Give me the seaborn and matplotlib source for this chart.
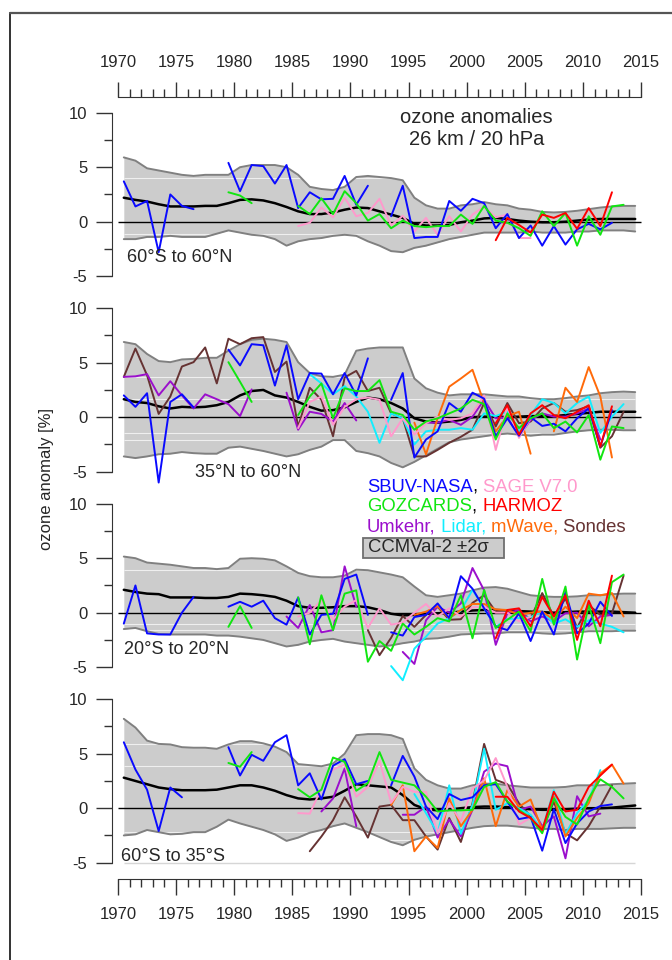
import numpy as np
import matplotlib
matplotlib.use("Agg")
import matplotlib.pyplot as plt
import seaborn as sns
from matplotlib.patches import Rectangle
from matplotlib.lines import Line2D

sns.set_style("ticks")
plt.rcParams["font.family"] = ["Liberation Sans", "DejaVu Sans"]
plt.rcParams["axes.unicode_minus"] = False

nan = np.nan
YEAR0 = 1970  # band / mean series start (one value per year)

# ---------------- CCMVal-2 band (upper, lower) and mean, 1970..2014 ----------------
band_hi = [
    [5.9, 5.6, 4.9, 4.7, 4.5, 4.3, 4.2, 4.3, 4.3, 4.3, 5.0, 5.2, 5.2, 5.2, 5.0, 4.3, 3.2, 3.0, 2.9, 3.2, 4.1, 4.2, 4.1,
     4.0, 3.8, 2.2, 1.5, 1.2, 1.2, 1.5, 1.6, 1.8, 1.6, 1.5, 1.2, 1.1, 0.9, 0.85, 0.9, 1.0, 1.15, 1.3, 1.4, 1.45, 1.45],
    [6.9, 6.7, 5.8, 5.15, 5.05, 5.3, 5.35, 5.45, 5.45, 6.1, 6.7, 7.1, 7.2, 7.1, 6.9, 5.05, 4.05, 3.75, 3.7, 3.9, 6.1,
     6.3, 6.4, 6.4, 6.4, 3.55, 2.65, 2.25, 2.0, 2.1, 2.1, 2.1, 2.0, 1.9, 1.9, 1.75, 1.65, 1.65, 1.75, 1.9, 2.0, 2.2,
     2.3, 2.35, 2.3],
    [5.15, 5.0, 4.6, 4.5, 4.4, 4.25, 4.1, 4.1, 4.0, 4.1, 4.95, 5.0, 4.95, 4.8, 4.25, 3.65, 3.35, 3.25, 3.25, 3.4, 3.95,
     3.9, 3.7, 3.5, 3.25, 2.4, 1.6, 1.45, 1.6, 1.75, 2.05, 2.3, 2.35, 2.2, 1.9, 1.6, 1.5, 1.45, 1.45, 1.5, 1.6, 1.6,
     1.7, 1.75, 1.75],
    [8.2, 7.4, 6.2, 5.9, 5.85, 5.6, 5.55, 5.55, 5.45, 5.85, 6.15, 6.15, 5.95, 5.65, 5.15, 4.05, 3.95, 3.85, 4.1, 5.0,
     6.7, 6.8, 6.8, 6.7, 6.35, 3.65, 2.6, 2.1, 1.8, 1.8, 2.1, 2.25, 2.25, 2.1, 2.0, 1.9, 1.9, 1.9, 1.95, 2.1, 2.1, 2.1,
     2.2, 2.25, 2.3],
]
band_lo = [
    [-1.6, -1.6, -1.4, -1.4, -1.3, -1.4, -1.4, -1.4, -1.1, -0.8, -1.0, -1.2, -1.3, -1.6, -2.2, -1.8, -1.6, -1.5, -1.3,
     -1.2, -1.3, -1.8, -2.2, -2.7, -2.8, -2.4, -2.2, -1.9, -1.6, -1.4, -1.2, -1.0, -1.0, -1.0, -1.0, -0.9, -1.0, -1.0,
     -1.0, -0.9, -0.9, -0.8, -0.8, -0.8, -0.9],
    [-3.6, -3.75, -3.6, -3.4, -3.35, -3.2, -3.3, -3.35, -3.35, -2.8, -2.7, -2.9, -3.1, -3.35, -3.6, -3.4, -3.0, -2.7,
     -2.1, -2.1, -3.1, -3.3, -3.6, -4.2, -4.6, -4.1, -3.5, -2.9, -2.3, -2.05, -1.9, -1.75, -1.6, -1.5, -1.6, -1.7,
     -1.6, -1.6, -1.45, -1.3, -1.2, -1.15, -1.15, -1.2, -1.2],
    [-1.5, -1.4, -1.7, -1.95, -2.0, -2.0, -2.0, -2.0, -2.1, -2.1, -2.2, -2.35, -2.5, -2.8, -3.1, -2.95, -2.65, -2.5,
     -2.4, -2.65, -2.8, -2.95, -3.1, -3.0, -2.8, -2.65, -2.4, -2.35, -2.2, -2.0, -1.95, -1.9, -1.9, -1.8, -1.8, -1.8,
     -1.9, -1.95, -1.9, -1.8, -1.7, -1.7, -1.7, -1.65, -1.65],
    [-2.5, -2.4, -2.0, -2.2, -2.4, -2.35, -2.2, -2.2, -1.7, -1.05, -1.4, -1.7, -2.0, -2.4, -3.0, -2.7, -2.25, -2.0,
     -1.65, -1.4, -1.8, -2.2, -2.65, -3.1, -3.4, -2.9, -2.6, -2.4, -2.2, -2.0, -1.8, -1.65, -1.6, -1.6, -1.7, -1.8,
     -1.9, -1.9, -2.0, -1.9, -1.9, -1.9, -1.85, -1.8, -1.8],
]
ccm_mean = [
    [2.2, 2.0, 1.85, 1.6, 1.4, 1.4, 1.4, 1.45, 1.45, 1.7, 2.0, 2.05, 1.95, 1.7, 1.35, 0.95, 0.7, 0.7, 0.85, 1.1, 1.3,
     1.25, 0.95, 0.65, 0.35, -0.2, -0.35, -0.35, -0.3, -0.05, 0.1, 0.3, 0.35, 0.25, 0.1, 0.0, -0.05, -0.05, 0.0, 0.1,
     0.2, 0.25, 0.25, 0.25, 0.25],
    [1.65, 1.4, 1.3, 1.0, 0.8, 0.95, 0.9, 0.95, 1.1, 1.4, 2.0, 2.4, 2.5, 2.0, 1.8, 1.4, 0.95, 0.6, 0.65, 0.9, 1.4, 1.8,
     1.65, 1.3, 0.8, -0.1, -0.4, -0.5, -0.4, -0.25, 0.0, 0.05, 0.05, 0.0, 0.05, 0.1, 0.1, 0.1, 0.2, 0.3, 0.4, 0.5, 0.5,
     0.5, 0.5],
    [2.1, 1.9, 1.75, 1.7, 1.4, 1.4, 1.4, 1.35, 1.35, 1.45, 1.75, 1.7, 1.6, 1.45, 1.1, 0.6, 0.45, 0.45, 0.5, 0.6, 0.6,
     0.5, 0.25, -0.1, -0.25, -0.2, -0.1, -0.05, 0.0, 0.1, 0.2, 0.25, 0.25, 0.2, 0.15, 0.1, 0.05, 0.0, 0.05, 0.1, 0.1,
     0.1, 0.1, 0.05, 0.0],
    [2.8, 2.5, 2.2, 1.9, 1.75, 1.65, 1.65, 1.65, 1.7, 1.9, 2.1, 2.1, 1.9, 1.6, 1.2, 0.9, 0.8, 0.9, 1.05, 1.6, 2.2, 2.1,
     2.0, 1.9, 1.2, 0.3, -0.1, -0.2, -0.15, 0.0, 0.1, 0.15, 0.15, 0.1, 0.0, -0.1, -0.15, -0.15, -0.1, -0.05, 0.0, 0.0,
     0.05, 0.15, 0.25],
]

# ---------------- observations: (first year, annual values) ----------------
# panel 1: 60S-60N
sbuv1 = (1970, [3.7, 1.4, 1.9, -2.8, 2.5, 1.45, 1.15, nan, nan, 5.4, 2.8, 5.2, 5.1, 3.5, 5.2, 1.25, 2.7, 2.05, 2.1,
                4.2, 1.55, 3.3, nan, 0.5, 3.3, -1.5, -1.4, -1.4, 1.9, 1.0, 2.1, 1.7, -0.6, 0.7, -1.5, -0.35, -2.2,
                -0.4, -2.1, -0.7, -0.2, -0.7, -0.1])
sage1 = (1985, [-0.4, -0.1, 1.3, 0.4, 2.2, 0.5, 0.8, 2.1, -0.35, 0.55, -0.9, 0.35, -1.2, 0.5, -0.9, 0.65, 1.4, 0.4,
                0.65, -1.5, -1.5])
goz1 = (1979, [2.7, 2.4, 1.7, nan, nan, nan, 1.45, 0.7, 2.15, 0.7, 2.8, 1.7, 0.1, 0.7, -0.6, 0.1, -0.4, -0.5, -0.4,
               -0.4, 0.65, -0.2, 1.45, 0.1, -0.1, -0.6, -1.3, 0.95, -0.4, 0.8, -2.2, 0.5, -1.2, 1.4, 1.55])
harm1 = (2002, [-1.7, 0.35, -0.3, -1.0, 0.65, 0.35, 0.8, -0.65, 1.25, -0.4, 2.7])

# panel 2: 35N-60N
sbuv2 = (1970, [2.0, 0.95, 2.2, -6.0, 1.4, 2.1, 0.9, nan, nan, 6.2, 4.75, 6.7, 6.6, 2.9, 6.6, 1.65, 4.05, 4.0, 2.1,
                4.05, 2.0, 5.4, nan, 1.6, 4.05, -3.7, -2.05, -1.3, 1.3, 0.5, 2.25, 1.7, -1.75, -0.1, -1.7, 0.0, -0.8,
                -0.6, -1.3, -0.1, 0.8, -2.7, 0.65])
sage2 = (1985, [-1.0, 1.4, 1.9, -0.7, 0.95, 1.65, 1.8, 1.6, -1.75, -0.1, -1.6, -0.55, 0.05, -0.25, -0.1, 0.35, 2.0,
                -3.0, 0.95, -1.9, -0.1])
goz2 = (1979, [5.05, 3.25, 1.4, nan, nan, nan, 0.2, 1.9, 3.1, -0.1, 2.65, 2.4, 2.4, 3.4, 0.5, 0.2, -1.15, -0.4,
               -0.1, 0.35, 0.8, 1.6, 1.2, -2.05, 0.35, -1.0, -0.1, 0.35, -1.0, -0.4, -1.4, 0.2, -3.9, -0.85, -1.0])
harm2 = (2002, [-0.55, 1.1, -1.6, 0.35, 1.1, 0.2, -0.1, 0.5, 1.1, -2.7, 1.0])
umk2 = (1970, [3.7, 3.75, 3.95, 2.0, 3.3, 2.0, 0.8, 2.1, 1.65, 1.2, 0.1, 2.55, nan, nan, 2.25, -1.15, 0.5, 0.3,
               -0.4, 1.3, -0.3, nan, nan, nan, nan, nan, -0.5, -0.5, -0.25, -0.7, 0.05, 1.6, -0.1, 0.0, -1.75,
               -0.25, 0.35, 0.05, 0.05, 0.35, 0.8, -2.05])
lidar2 = (1986, [3.95, 3.1, 2.1, 2.85, 1.9, 0.5, -2.35, 0.35, -0.1, -2.5, -1.3, -1.15, -1.15, -1.0, -1.15, 0.35, 0.1,
                 0.5, -1.3, 0.2, 1.65, 1.3, 0.35, 1.3, 1.9, -1.45, 0.05, 1.2])
mw2 = (1995, [-0.5, -3.4, -0.1, 2.8, 3.55, 4.35, 1.3, -1.3, 0.1, 0.5, -3.35, nan, -1.3, 2.7, 1.4, 4.6, 1.9, -3.7])
sonde2 = (1970, [3.7, 6.3, 3.85, 0.3, 1.9, 4.65, 5.05, 6.4, 3.1, 7.2, 6.7, 7.25, 7.35, 4.15, 5.1, -0.9, 2.7, 1.6,
                 -1.75, 3.65, 4.25, 2.4, 2.7, 0.35, -0.1, -3.6, -3.6, -3.0, -2.35, -1.8, -1.15, 1.3, -0.85, 1.3,
                 -0.55, -0.4, 0.8, 1.3, 0.5, 0.65, 1.0, -2.8, -1.75, 0.5])

# panel 3: 20S-20N
sbuv3 = (1970, [-1.0, 2.5, -1.9, -2.0, -2.0, 0.0, 1.45, nan, nan, 0.55, 1.0, 0.55, 1.1, -0.5, -1.1, 1.4, -2.0, -0.2,
                -0.1, 3.1, 3.5, -0.2, nan, -1.8, -2.1, -0.4, -0.2, 0.85, -0.5, 3.35, 2.2, 0.4, -1.25, -1.6, -0.05,
                -2.6, 0.1, -2.0, 1.9, -1.9, -1.0, 1.0, -0.3])
sage3 = (1985, [-0.35, 0.0, 1.15, -0.65, 0.55, 1.15, -1.4, 0.4, -1.1, -0.9, 0.0, 0.8, -0.35, 0.4, -0.35, 0.5, 0.55,
                0.0, 0.0, -0.8, -0.35])
goz3 = (1979, [-1.3, 0.6, -1.4, nan, nan, nan, 1.4, -2.9, 1.6, -1.6, 1.75, 2.05, -4.5, -2.6, -3.5, -1.0, -2.0, -1.3,
               -0.5, -0.8, 1.6, -2.35, 2.1, -1.4, -0.65, 0.1, -1.7, 3.1, -1.1, 2.4, -4.3, 0.7, -2.8, 2.8, 3.5])
harm3 = (2002, [-2.35, 0.25, 0.4, -1.25, 1.45, -0.35, 1.6, -2.5, 1.1, -1.25, 3.4])
umk3 = (1984, [-0.35, -1.4, 0.7, -1.8, -1.6, 4.25, 0.55, nan, nan, nan, -3.6, -4.7, -0.7, 0.55, 0.0, 0.85, 4.1, 2.05,
               -2.95, -0.05, 0.25, -0.8, -0.35, -0.8, -0.05, 0.0, -1.25, -0.35, -0.2])
lidar3 = (1993, [-4.9, -6.2, -3.3, -2.2, -1.0, -0.5, 0.2, 2.1, 0.4, -1.3, -0.6, -0.5, -0.4, 0.1, -1.0, -0.6, -1.3,
                 -0.7, -1.0, -1.3, -1.8])
mw3 = (1995, [-0.2, 0.1, 0.6, -0.5, 0.25, 0.8, 0.8, 0.3, 0.25, -0.2, 0.0, 0.1, -0.65, 0.55, -0.5, 1.75, 1.6, 1.8,
              -0.35])
sonde3 = (1991, [-1.6, -3.9, -2.3, -0.3, -1.3, -0.2, 0.55, -0.65, -0.6, 0.9, 1.6, 0.1, 0.25, -0.05, -0.5, 1.8, -0.35,
                 1.3, -1.4, 0.7, -0.2, -0.05, 3.4])

# panel 4: 60S-35S
sbuv4 = (1970, [6.05, 3.55, 1.7, -2.1, 1.9, 1.0, nan, nan, nan, 5.6, 3.0, 4.9, 4.35, 6.05, 6.7, 2.1, 3.2, 0.8, 3.9,
                4.5, 2.2, 2.5, nan, 2.1, 4.8, 2.9, 0.15, -1.0, 1.3, 0.75, 1.0, 2.1, 2.2, 0.6, -1.0, -0.8, -3.9, -0.1,
                -3.2, -1.4, -0.3, 0.2, 0.35])
sage4 = (1985, [-0.45, -0.5, 1.8, 3.55, 4.0, 1.05, 1.95, 4.35, 0.5, 1.95, 1.5, 1.5, -2.3, 0.45, -1.2, 1.8, 2.55, 4.6,
                1.95, -1.5, -0.9])
goz4 = (1979, [4.15, 3.8, 5.15, nan, nan, nan, 1.75, 1.0, 1.7, 4.65, 4.25, 1.6, 2.3, 5.15, 2.6, 2.35, 2.1, 1.05,
               -0.3, -0.2, -0.2, -0.15, 1.95, 2.4, 0.6, -0.15, -0.9, -2.3, 0.9, -0.8, -1.5, 0.9, 2.65, 1.95, 0.9])
harm4 = (2002, [1.05, 1.05, -0.3, -0.9, -2.0, 1.5, -0.3, -0.15, 1.95, 3.0, 4.0])
umk4 = (1987, [-0.3, 0.9, 3.65, -1.65, nan, nan, nan, -0.6, -0.6, 0.15, -2.7, -1.05, -2.6, -0.15, 3.35, 4.1, 3.85,
               -0.15, 0.15, -1.65, -0.75, -4.6, 1.1, -0.75, -0.5])
lidar4 = (1995, [1.3, -0.45, -2.3, 2.1, -2.35, 0.3, 5.45, -0.15, 0.45, 0.0, -0.6, -2.0, 1.65, -2.4, -0.45, 0.75, 3.5])
mw4 = (1993, [0.3, 2.1, -3.95, -2.6, -3.65, 0.9, -1.65, -0.15, 2.75, -1.65, 1.65, 0.15, 0.8, -2.0, 1.05, -2.6, -0.9,
              0.45, 3.2, 4.0, 2.25])
sonde4 = (1986, [-3.95, -2.6, -1.1, 1.0, -0.75, -2.7, 0.15, 0.3, -1.1, -1.1, -2.6, -3.8, -0.9, -3.1, 0.45, 5.9, 2.6,
                 2.2, 0.45, -0.75, -2.0, 0.6, -2.3, -2.95, -1.65, 0.15, 2.1])

COLORS = {"sbuv": "#0a0aff", "sage": "#ff99cc", "goz": "#11e611", "harm": "#ff0000",
          "umk": "#9b0fcc", "lidar": "#11eeff", "mw": "#ff6a0a", "sonde": "#663333"}

panels = [
    {"label": "60°S to 60°N", "lab_xy": (1970.8, -3.3),
     "obs": [("sage", sage1), ("sbuv", sbuv1), ("goz", goz1), ("harm", harm1)],
     "white": [4.0, -1.15]},
    {"label": "35°N to 60°N", "lab_xy": (1976.6, -5.1),
     "obs": [("sonde", sonde2), ("umk", umk2), ("lidar", lidar2), ("mw", mw2), ("sage", sage2), ("sbuv", sbuv2),
             ("goz", goz2), ("harm", harm2)],
     "white": [3.7, 1.7, -1.45, -2.05]},
    {"label": "20°S to 20°N", "lab_xy": (1970.5, -3.4),
     "obs": [("sonde", sonde3), ("umk", umk3), ("lidar", lidar3), ("mw", mw3), ("sage", sage3), ("sbuv", sbuv3),
             ("goz", goz3), ("harm", harm3)],
     "white": [3.95, -1.0, -1.6]},
    {"label": "60°S to 35°S", "lab_xy": (1970.3, -4.45),
     "obs": [("sonde", sonde4), ("umk", umk4), ("lidar", lidar4), ("mw", mw4), ("sage", sage4), ("sbuv", sbuv4),
             ("goz", goz4), ("harm", harm4)],
     "white": [5.85, 3.9, -2.2, -2.9]},
]

legend_lines = [
    [("SBUV-NASA", COLORS["sbuv"]), (", ", "black"), ("SAGE V7.0", COLORS["sage"])],
    [("GOZCARDS", COLORS["goz"]), (", ", "black"), ("HARMOZ", COLORS["harm"])],
    [("Umkehr,", COLORS["umk"]), (" Lidar,", COLORS["lidar"]), (" mWave,", COLORS["mw"]),
     (" Sondes", COLORS["sonde"])],
]


def draw(ax, start, vals, color, lw=1.4):
    y = np.array(vals, dtype=float)
    x = np.arange(start, start + len(y)) + 0.5
    idx = np.flatnonzero(~np.isnan(y))
    for run in np.split(idx, np.where(np.diff(idx) != 1)[0] + 1):
        if len(run) > 1:
            sns.lineplot(x=x[run], y=y[run], ax=ax, color=color, lw=lw, estimator=None, sort=False)


fig = plt.figure(figsize=(6.72, 9.6), dpi=100)
W, H = 672.0, 960.0
ax_left, ax_w = 112.5 / W, (644.5 - 112.5) / W
ax_h = 195.5 / H
XLIM = (1969.527, 2015.3)
YLIM = (-6.47, 11.47)
TICK_C = "#333333"

axes = []
for k, p in enumerate(panels):
    bottom = 1 - (292.2 + 195.5 * k) / H
    ax = fig.add_axes([ax_left, bottom, ax_w, ax_h])
    ax.patch.set_alpha(0)
    axes.append(ax)

    yrs = np.arange(YEAR0, YEAR0 + len(ccm_mean[k])) + 0.5
    ax.fill_between(yrs, band_lo[k], band_hi[k], color="#cccccc", lw=0, zorder=1)
    for v in p["white"]:
        ax.hlines(v, yrs[0], yrs[-1], color="white", lw=0.8, alpha=0.7, zorder=1.2)
    if k == 3:
        ax.hlines(-5, yrs[0], yrs[-1], color="#d6d6d6", lw=1.0, zorder=1.2)
    draw(ax, YEAR0, band_hi[k], "#808080", lw=1.4)
    draw(ax, YEAR0, band_lo[k], "#808080", lw=1.4)
    ax.hlines(0, 1970, 2015, color="black", lw=1.0, zorder=2)
    draw(ax, YEAR0, ccm_mean[k], "black", lw=1.8)
    for key, (start, vals) in p["obs"]:
        draw(ax, start, vals, COLORS[key], lw=1.4)

    ax.text(p["lab_xy"][0], p["lab_xy"][1], p["label"], fontsize=13, ha="left", va="center")

    ax.set_xlim(*XLIM)
    ax.set_ylim(*YLIM)
    ax.set_xlabel("")
    ax.set_ylabel("")
    ax.set_yticks([-5, 0, 5, 10])
    ax.set_yticklabels(["-5", "0", "5", "10"])
    ax.set_yticks([-2.5, 2.5, 7.5], minor=True)
    ax.spines["left"].set_bounds(-5, 10)
    ax.spines["left"].set_color(TICK_C)
    ax.spines["right"].set_visible(False)
    ax.tick_params(axis="y", which="major", direction="out", length=11.5, width=1, color=TICK_C,
                   labelsize=12, pad=6.5)
    ax.tick_params(axis="y", which="minor", direction="out", length=5.8, width=1, color=TICK_C)

    ax.set_xticks(np.arange(1970, 2016, 5))
    ax.set_xticks(np.arange(1970, 2016, 1), minor=True)
    if k == 0:
        ax.xaxis.tick_top()
        ax.spines["top"].set_bounds(1970, 2015)
        ax.spines["top"].set_color(TICK_C)
        ax.spines["bottom"].set_visible(False)
        ax.tick_params(axis="x", which="major", top=True, bottom=False, length=10.8, width=1, color=TICK_C,
                       labelsize=12, pad=8.5, labeltop=True, labelbottom=False)
        ax.tick_params(axis="x", which="minor", top=True, bottom=False, length=5.5, width=1, color=TICK_C)
    elif k == 3:
        ax.spines["bottom"].set_bounds(1970, 2015)
        ax.spines["bottom"].set_color(TICK_C)
        ax.spines["top"].set_visible(False)
        ax.tick_params(axis="x", which="major", length=11.5, width=1, color=TICK_C, labelsize=12, pad=9)
        ax.tick_params(axis="x", which="minor", length=5.8, width=1, color=TICK_C)
    else:
        ax.spines["top"].set_visible(False)
        ax.spines["bottom"].set_visible(False)
        ax.tick_params(axis="x", which="both", bottom=False, top=False, labelbottom=False)

# title in the top panel
axes[0].text(2000.85, 9.6, "ozone anomalies", fontsize=14.5, ha="center", va="center")
axes[0].text(2000.85, 7.5, "26 km / 20 hPa", fontsize=14.5, ha="center", va="center")

fig.text(46 / W, 1 - 479 / H, "ozone anomaly [%]", rotation=90, ha="center", va="center", fontsize=12)

# coloured legend text, pieces chained one after another
for ypx, parts in zip([487.5, 507.0, 527.0], legend_lines):
    prev = fig.text(367 / W, 1 - ypx / H, parts[0][0], color=parts[0][1], fontsize=13.3, ha="left", va="center")
    for txt, col in parts[1:]:
        prev = axes[2].annotate(txt, xy=(1, 0), xycoords=prev, ha="left", va="bottom", color=col,
                                fontsize=13.3, annotation_clip=False)

fig.add_artist(Rectangle((363.3 / W, 1 - 557.7 / H), (504 - 363.3) / W, 20 / H, transform=fig.transFigure,
                         facecolor="#cccccc", edgecolor="#6e6e6e", lw=1.3))
fig.text(367.5 / W, 1 - 547.7 / H, "CCMVal-2 ±2σ", fontsize=13.3, ha="left", va="center")

# outer frame (only top and left edges fall inside the image)
fig.add_artist(Line2D([9.5 / W, 9.5 / W], [1 - 12.5 / H, 0], transform=fig.transFigure, color="#222222", lw=1.3))
fig.add_artist(Line2D([9.5 / W, 1], [1 - 12.5 / H, 1 - 12.5 / H], transform=fig.transFigure, color="#555555",
                      lw=1.6))

fig.savefig("out.png", dpi=100)
